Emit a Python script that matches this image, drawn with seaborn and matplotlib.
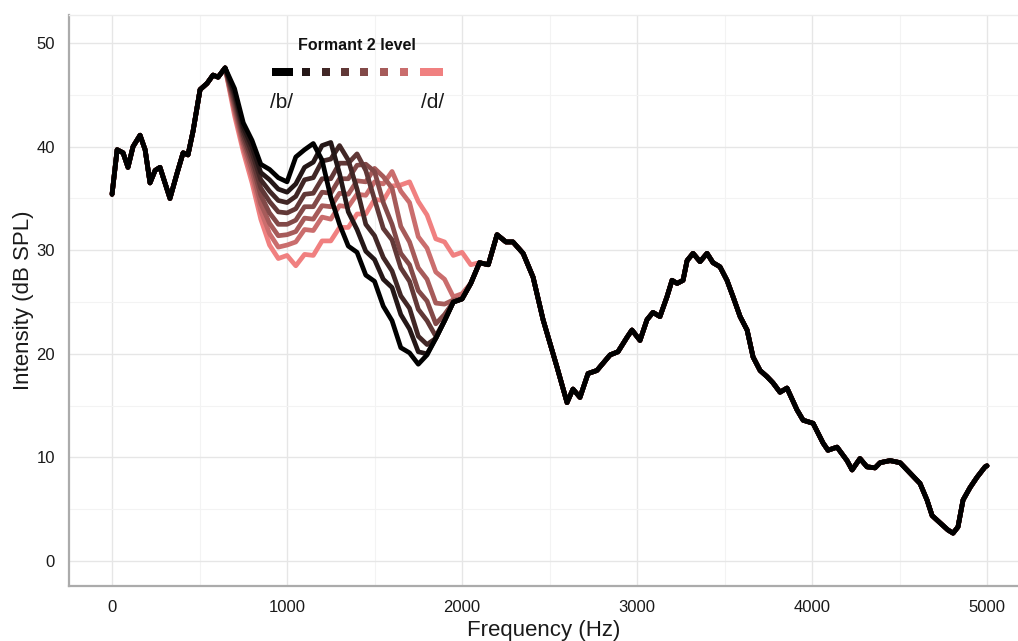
import matplotlib
matplotlib.use("Agg")
import matplotlib.pyplot as plt
from matplotlib.patches import Rectangle
from matplotlib.ticker import MultipleLocator
import seaborn as sns
import pandas as pd

# ---------------- data ----------------
freq_left = [0, 29, 63, 91, 120, 160, 189, 217, 246, 274, 291, 331, 371, 406, 434, 463,
             503, 543, 577, 606, 646]
db_left = [35.4, 39.7, 39.4, 38.0, 40.0, 41.1, 39.7, 36.5, 37.7, 38.0, 37.1, 35.0, 37.4,
           39.4, 39.2, 41.5, 45.5, 46.1, 46.9, 46.7, 47.6]

freq_mid = [700, 750, 800, 850, 900, 950, 1000, 1050, 1100, 1150, 1200, 1250, 1300, 1350,
            1400, 1450, 1500, 1550, 1600, 1650, 1700, 1750, 1800, 1850, 1900, 1950, 2000,
            2050, 2100, 2150]
db_mid_1 = [45.6, 42.3, 40.6, 38.3, 37.8, 37.0, 36.6, 39.0, 39.7, 40.3, 38.7, 35.1, 32.5,
            30.4, 29.8, 27.6, 27.0, 24.6, 23.2, 20.6, 20.1, 19.0, 19.9, 21.5, 23.2, 25.0,
            25.3, 26.8, 28.8, 28.6]
db_mid_2 = [45.2, 41.9, 40.0, 37.5, 36.8, 35.9, 35.6, 36.4, 38.0, 38.5, 40.1, 40.4, 37.4,
            33.7, 32.0, 29.9, 29.1, 27.2, 26.4, 23.8, 22.4, 20.2, 20.0, 21.5, 23.2, 25.0,
            25.3, 26.8, 28.8, 28.6]
db_mid_3 = [44.9, 41.5, 39.4, 36.8, 35.7, 34.8, 34.6, 35.2, 36.8, 37.0, 38.6, 38.8, 40.1,
            38.7, 35.9, 32.5, 31.4, 29.3, 28.0, 25.6, 24.4, 21.7, 20.9, 21.5, 23.2, 25.0,
            25.3, 26.8, 28.8, 28.6]
db_mid_4 = [44.5, 41.1, 38.8, 36.0, 34.7, 33.7, 33.6, 34.0, 35.4, 35.5, 36.9, 36.9, 38.4,
            38.4, 39.3, 37.7, 34.9, 32.1, 31.0, 28.3, 27.0, 24.3, 23.2, 21.7, 23.2, 25.0,
            25.3, 26.8, 28.8, 28.6]
db_mid_5 = [44.1, 40.7, 38.3, 35.3, 33.6, 32.5, 32.5, 32.9, 34.2, 34.2, 35.6, 35.5, 36.9,
            36.9, 38.2, 38.3, 37.6, 34.6, 32.5, 29.7, 28.6, 26.1, 25.1, 22.9, 23.8, 25.0,
            25.3, 26.8, 28.8, 28.6]
db_mid_6 = [43.7, 40.3, 37.7, 34.5, 32.6, 31.4, 31.5, 31.8, 33.1, 33.0, 34.3, 34.2, 35.5,
            35.4, 36.7, 36.6, 37.9, 37.1, 36.0, 32.3, 30.8, 28.3, 27.2, 24.9, 24.8, 25.2,
            25.3, 26.8, 28.8, 28.6]
db_mid_7 = [43.4, 39.9, 37.1, 33.8, 31.6, 30.3, 30.5, 30.8, 32.0, 31.9, 33.2, 33.0, 34.3,
            34.2, 35.4, 35.3, 36.6, 36.4, 37.6, 35.7, 34.6, 31.3, 30.2, 27.9, 27.2, 25.5,
            25.8, 26.8, 28.8, 28.6]
db_mid_8 = [43.0, 39.5, 36.5, 33.0, 30.5, 29.2, 29.5, 28.5, 29.6, 29.5, 30.9, 30.9, 32.2,
            32.2, 33.5, 33.5, 34.9, 34.8, 36.2, 36.3, 36.6, 34.7, 33.4, 31.1, 30.8, 29.5,
            29.8, 28.6, 28.8, 28.6]

freq_right = [2200, 2251, 2291, 2349, 2406, 2463, 2543, 2600, 2634, 2674, 2720, 2771, 2846,
              2891, 2943, 2971, 3017, 3057, 3091, 3131, 3171, 3200, 3229, 3263, 3286, 3320,
              3360, 3400, 3434, 3474, 3514, 3549, 3589, 3629, 3663, 3703, 3743, 3777, 3817,
              3857, 3914, 3949, 4006, 4063, 4091, 4143, 4200, 4229, 4274, 4314, 4360, 4389,
              4446, 4503, 4560, 4617, 4657, 4686, 4731, 4777, 4806, 4834, 4863, 4903, 4943,
              4989, 5000]
db_right = [31.5, 30.8, 30.8, 29.7, 27.4, 23.3, 18.7, 15.3, 16.6, 15.8, 18.1, 18.4, 19.9,
            20.2, 21.6, 22.3, 21.3, 23.3, 24.0, 23.6, 25.5, 27.1, 26.8, 27.1, 29.0, 29.7,
            28.9, 29.7, 28.8, 28.4, 27.1, 25.5, 23.6, 22.3, 19.7, 18.4, 17.8, 17.2, 16.3,
            16.7, 14.6, 13.6, 13.3, 11.4, 10.7, 11.0, 9.7, 8.8, 9.9, 9.1, 9.0, 9.5,
            9.7, 9.5, 8.5, 7.5, 5.9, 4.4, 3.7, 3.0, 2.7, 3.3, 5.9, 7.1, 8.1,
            9.1, 9.2]

levels = [1, 2, 3, 4, 5, 6, 7, 8]
mid_series = [db_mid_1, db_mid_2, db_mid_3, db_mid_4, db_mid_5, db_mid_6, db_mid_7, db_mid_8]
legend_title = "Formant 2 level"
legend_low, legend_high = "/b/", "/d/"
x_ticks = [0, 1000, 2000, 3000, 4000, 5000]
y_ticks = [0, 10, 20, 30, 40, 50]

# ---------------- style ----------------
level_colors = ["#000000", "#241717", "#412726", "#613837",
                "#824948", "#A65B5A", "#CA6D6D", "#F08080"]
palette = dict(zip(levels, level_colors))

sns.set_style("white")
plt.rcParams["font.family"] = ["Liberation Sans", "DejaVu Sans"]

rows = []
for lev, mid in zip(levels, mid_series):
    fr = freq_left + freq_mid + freq_right
    db = db_left + mid + db_right
    for f, d in zip(fr, db):
        rows.append({"freq": f, "db": d, "level": lev})
df = pd.DataFrame(rows)

W, H = 1018, 641
fig = plt.figure(figsize=(W / 100, H / 100), dpi=100)
ax = fig.add_axes([69 / W, 1 - 586 / H, 1 - 69 / W, (586 - 15) / H])

sns.lineplot(data=df, x="freq", y="db", hue="level", hue_order=levels[::-1],
             palette=palette, estimator=None, sort=False, linewidth=3.4,
             legend=False, ax=ax, solid_joinstyle="round", solid_capstyle="round")

ax.set_xlim(-246, 5177)
ax.set_ylim(-2.4, 52.7)
ax.set_xticks(x_ticks)
ax.set_yticks(y_ticks)
ax.xaxis.set_minor_locator(MultipleLocator(500))
ax.yaxis.set_minor_locator(MultipleLocator(5))
ax.grid(True, which="major", color="#e6e6e6", linewidth=1.0)
ax.grid(True, which="minor", color="#f3f3f3", linewidth=0.8)
ax.set_axisbelow(True)

ax.tick_params(axis="both", which="major", direction="out", length=6, width=1.3,
               color="#333333", labelsize=12, labelcolor="#1a1a1a", pad=4)
ax.tick_params(axis="both", which="minor", length=0)
for side in ["left", "bottom"]:
    ax.spines[side].set_color("#ababab")
    ax.spines[side].set_linewidth(1.6)
ax.spines["top"].set_color("#ececec")
ax.spines["top"].set_linewidth(1.0)
ax.spines["right"].set_visible(False)

ax.set_xlabel("Frequency (Hz)", fontsize=16, color="#1a1a1a", labelpad=4)
ax.set_ylabel("Intensity (dB SPL)", fontsize=16, color="#1a1a1a", labelpad=2)

# ---------------- custom legend ----------------
fig.text(357 / W, 1 - 45 / H, legend_title, ha="center", va="center",
         fontsize=11.5, fontweight="bold", color="#111111")
key_boxes = [(272, 21), (302, 8), (322, 8), (341, 8), (360, 8), (380, 8), (400, 8), (420, 23)]
for (x0, w), col in zip(key_boxes, level_colors):
    fig.add_artist(Rectangle((x0 / W, 1 - 76 / H), w / W, 8 / H,
                             transform=fig.transFigure, facecolor=col,
                             edgecolor="none"))
fig.text(270 / W, 1 - 103 / H, legend_low, ha="left", va="center", fontsize=15,
         color="#1a1a1a")
fig.text(444 / W, 1 - 103 / H, legend_high, ha="right", va="center", fontsize=15,
         color="#1a1a1a")

fig.savefig("out.png", dpi=100)
